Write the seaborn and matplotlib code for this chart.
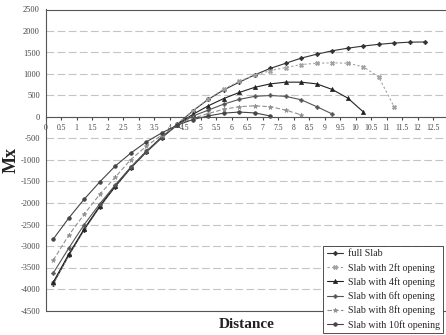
import numpy as np
import pandas as pd
import matplotlib
matplotlib.use("Agg")
import matplotlib.pyplot as plt
import seaborn as sns

# Mx along the slab
distance = [0, 0.5, 1, 1.5, 2, 2.5, 3, 3.5, 4, 4.5, 5, 5.5, 6, 6.5, 7, 7.5,
            8, 8.5, 9, 9.5, 10, 10.5, 11, 11.5, 12]
tick_labels = ["0", "0.5", "1", "1.5", "2", "2.5", "3", "3.5", "4", "4.5", "5", "5.5",
               "6", "6.5", "7", "7.5", "8", "8.5", "9", "9.5", "10", "10.5", "11",
               "11.5", "12", "12.5"]

full_slab = [-3880, -3220, -2620, -2090, -1620, -1190, -820, -480, -170, 140, 410, 630,
             810, 980, 1130, 1250, 1370, 1460, 1540, 1600, 1650, 1690, 1720, 1740, 1745]
opening_2ft = [-3870, -3210, -2610, -2080, -1600, -1170, -800, -460, -160, 150, 420, 650,
               830, 970, 1080, 1150, 1220, 1250, 1260, 1250, 1170, 930, 230]
opening_4ft = [-3840, -3190, -2600, -2070, -1600, -1170, -800, -470, -180, 60, 260, 430,
               570, 690, 770, 810, 810, 770, 640, 440, 120]
opening_6ft = [-3630, -3050, -2500, -2020, -1580, -1170, -810, -480, -190, 20, 160, 300,
               410, 480, 500, 480, 400, 240, 70]
opening_8ft = [-3330, -2750, -2260, -1800, -1400, -990, -680, -420, -190, -30, 80, 180,
               240, 260, 240, 160, 50]
opening_10ft = [-2840, -2350, -1910, -1510, -1140, -840, -580, -370, -190, -60, 25, 90,
                115, 95, 25]

series = [
    ("full Slab", full_slab, "#333333", "-", "D", 2.3),
    ("Slab with 2ft opening", opening_2ft, "#a0a0a0", (0, (2, 2)), "X", 3.0),
    ("Slab with 4ft opening", opening_4ft, "#222222", "-", "^", 3.0),
    ("Slab with 6ft opening", opening_6ft, "#555555", "-", "P", 2.6),
    ("Slab with 8ft opening", opening_8ft, "#909090", (0, (4, 2)), "*", 3.5),
    ("Slab with 10ft opening", opening_10ft, "#444444", "-", "o", 2.6),
]

sns.set_style("white")
plt.rcParams["font.family"] = ["Liberation Serif", "DejaVu Serif"]
plt.rcParams["axes.unicode_minus"] = False

fig = plt.figure(figsize=(4.46, 3.35), dpi=100)
ax = fig.add_axes([45.5 / 446, 1 - 310.5 / 335, 403 / 446, 301 / 335])

# excel category axis: points sit half a category right of the tick
for name, vals, col, ls, mk, ms in series:
    x = np.array(distance[:len(vals)]) + 0.25
    sns.lineplot(x=x, y=vals, ax=ax, color=col, linestyle=ls, linewidth=0.8,
                 marker=mk, markersize=ms, markeredgecolor=col, markeredgewidth=0.5,
                 label=name)

ax.set_xlim(0, 13)
ax.set_ylim(-4500, 2500)
ax.set_yticks(np.arange(-4500, 2501, 500))
ax.set_xticks(np.arange(len(tick_labels)) * 0.5)
ax.set_xticklabels(tick_labels)
ax.set_xlabel("")
ax.set_ylabel("")

ax.grid(axis="y", color="#c4c4c4", linestyle=(0, (7, 3)), linewidth=0.8)
ax.grid(axis="x", visible=False)

ax.spines["bottom"].set_position(("data", 0))
for s in ["bottom", "left", "top", "right"]:
    ax.spines[s].set_color("#555555")
    ax.spines[s].set_linewidth(0.8)
ax.plot([0, 1], [0, 0], transform=ax.transAxes, color="#555555", lw=0.8, clip_on=False)

ax.tick_params(axis="x", labelsize=5.5, colors="#444444", length=2, pad=3, direction="out",
               bottom=True)
ax.tick_params(axis="y", labelsize=6, colors="#444444", length=0, pad=4)

fig.text(247 / 446, 1 - 325 / 335, "Distance", ha="center", va="center",
         fontsize=11, fontweight="bold", color="#222222")
fig.text(11 / 446, 1 - 160 / 335, "Mx", ha="center", va="center", rotation=90,
         fontsize=13, fontweight="bold", color="#222222")

leg = ax.legend(loc="upper left", bbox_to_anchor=(323 / 446, 1 - 246 / 335),
                bbox_transform=fig.transFigure, fontsize=7.2, frameon=True, fancybox=False,
                framealpha=1, edgecolor="#333333", handlelength=1.6, handletextpad=0.5,
                borderpad=0.35, labelspacing=0.45, borderaxespad=0)
leg.get_frame().set_linewidth(0.6)

fig.savefig("out.png", dpi=100)
